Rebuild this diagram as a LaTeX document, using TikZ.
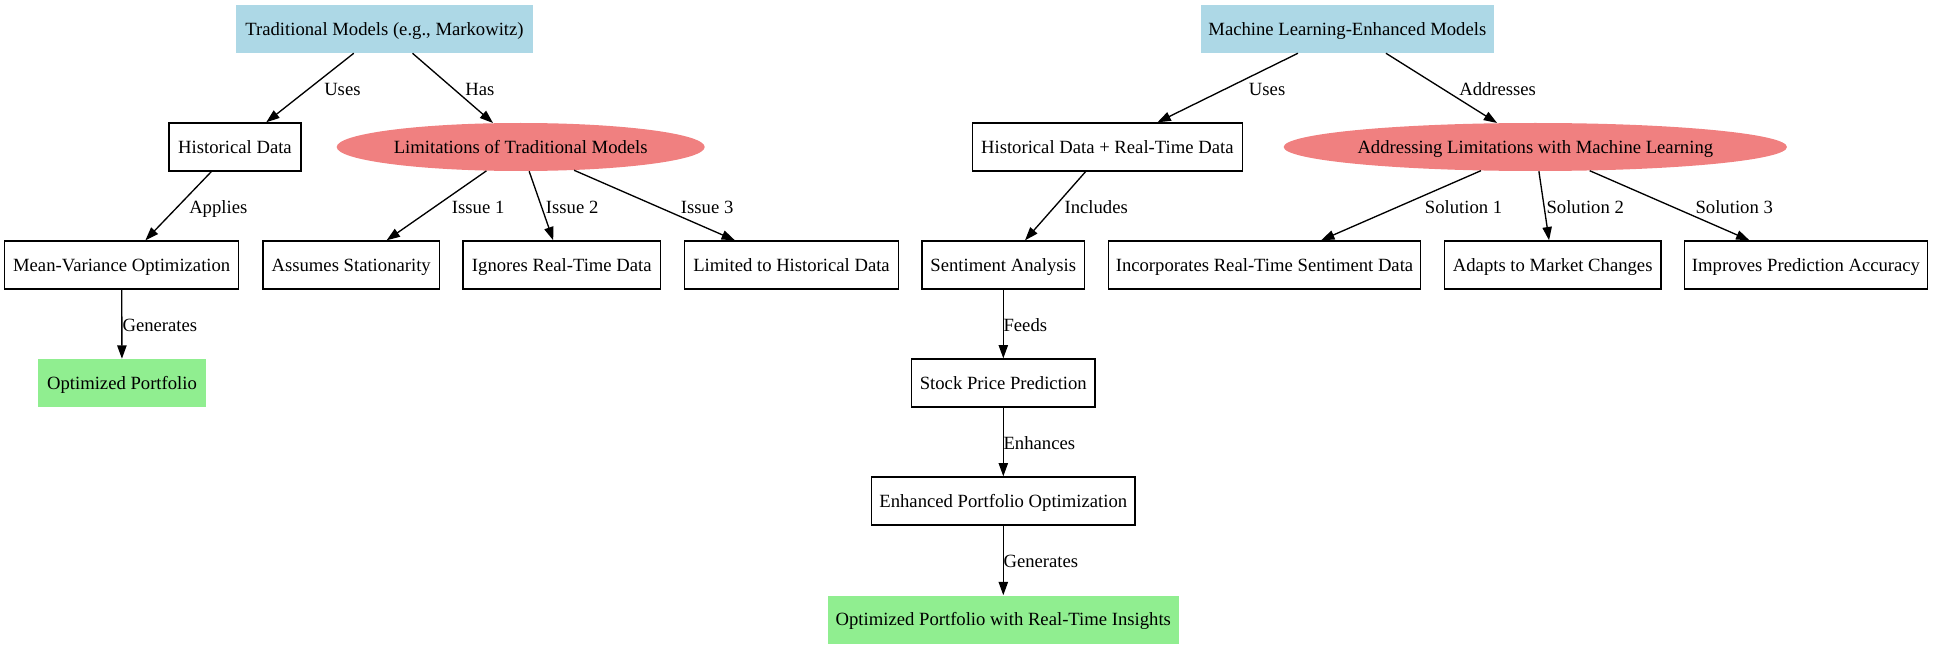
\documentclass[tikz,border=0pt]{standalone}
\usepackage{fontspec}
\setmainfont{Liberation Serif}
\usetikzlibrary{shapes.geometric,arrows.meta}
\definecolor{lblue}{HTML}{ADD8E6}
\definecolor{lcoral}{HTML}{F08080}
\definecolor{lgreen}{HTML}{90EE90}
\begin{document}
\begin{tikzpicture}[x=0.75pt,y=-0.75pt,
 every node/.style={font=\fontsize{14pt}{16.8pt}\selectfont, text height=9.3pt, text depth=0pt},
 base/.style={rectangle, minimum height=36pt, inner sep=0pt},
 plainbox/.style={base, draw=black, line width=1pt, fill=white},
 bluebox/.style={base, fill=lblue},
 greenbox/.style={base, fill=lgreen},
 oval/.style={ellipse, fill=lcoral, minimum height=36pt, inner sep=0pt},
 conn/.style={line width=1pt, -{Triangle[length=10pt,width=7pt]}},
 lbl/.style={anchor=west, inner sep=0pt}]
\useasboundingbox (0,0) rectangle (1933,649);
% row 1
\node[bluebox, minimum width=222.75pt] (trad) at (384.5,29) {Traditional Models (e.g., Markowitz)};
\node[bluebox, minimum width=220pt] (ml) at (1347.3,29) {Machine Learning-Enhanced Models};
% row 2
\node[plainbox, minimum width=99pt] (hist) at (235,147) {Historical Data};
\node[oval, minimum width=276pt] (lim) at (520.7,147) {Limitations of Traditional Models};
\node[plainbox, minimum width=202.5pt] (histrt) at (1107.3,147) {Historical Data + Real-Time Data};
\node[oval, minimum width=377.5pt] (addr) at (1535.3,147) {Addressing Limitations with Machine Learning};
% row 3
\node[plainbox, minimum width=175.5pt] (mv) at (121.7,265) {Mean-Variance Optimization};
\node[plainbox, minimum width=132.5pt] (assumes) at (351.2,265) {Assumes Stationarity};
\node[plainbox, minimum width=148.3pt] (ignores) at (561.8,265) {Ignores Real-Time Data};
\node[plainbox, minimum width=160.2pt] (limited) at (791.5,265) {Limited to Historical Data};
\node[plainbox, minimum width=122pt] (sent) at (1003.3,265) {Sentiment Analysis};
\node[plainbox, minimum width=234.3pt] (incorp) at (1264.5,265) {Incorporates Real-Time Sentiment Data};
\node[plainbox, minimum width=162.5pt] (adapts) at (1552.7,265) {Adapts to Market Changes};
\node[plainbox, minimum width=182pt] (improves) at (1806,265) {Improves Prediction Accuracy};
% row 4-6
\node[greenbox, minimum width=126.5pt] (optp) at (122,383) {Optimized Portfolio};
\node[plainbox, minimum width=137.7pt] (stock) at (1003.3,383) {Stock Price Prediction};
\node[plainbox, minimum width=197.3pt] (enh) at (1003.3,501) {Enhanced Portfolio Optimization};
\node[greenbox, minimum width=263.3pt] (optrt) at (1003.3,619.5) {Optimized Portfolio with Real-Time Insights};
% connectors
\draw[conn] (trad) -- (hist);
\draw[conn] (trad) -- (lim);
\draw[conn] (hist) -- (mv);
\draw[conn] (mv) -- (optp);
\draw[conn] (lim) -- (assumes);
\draw[conn] (lim) -- (ignores);
\draw[conn] (lim) -- (limited);
\draw[conn] (ml) -- (histrt);
\draw[conn] (ml) -- (addr);
\draw[conn] (histrt) -- (sent);
\draw[conn] (addr) -- (incorp);
\draw[conn] (addr) -- (adapts);
\draw[conn] (addr) -- (improves);
\draw[conn] (sent) -- (stock);
\draw[conn] (stock) -- (enh);
\draw[conn] (enh) -- (optrt);
% labels
\node[lbl] (l1) at (324,89) {Uses};
\node[lbl] (l2) at (465,89) {Has};
\node[lbl] (l3) at (189,207) {Applies};
\node[lbl] (l4) at (122.3,325) {Generates};
\node[lbl] (l5) at (451.7,207) {Issue 1};
\node[lbl] (l6) at (545.7,207) {Issue 2};
\node[lbl] (l7) at (680.7,207) {Issue 3};
\node[lbl] (l8) at (1248.7,89) {Uses};
\node[lbl] (l9) at (1459,89) {Addresses};
\node[lbl] (l10) at (1064.3,207) {Includes};
\node[lbl] (l11) at (1424.7,207) {Solution 1};
\node[lbl] (l12) at (1546.3,207) {Solution 2};
\node[lbl] (l13) at (1695.3,207) {Solution 3};
\node[lbl] (l14) at (1003.3,325) {Feeds};
\node[lbl] (l15) at (1003.3,443) {Enhances};
\node[lbl] (l16) at (1003.3,561) {Generates};
\end{tikzpicture}
\end{document}
